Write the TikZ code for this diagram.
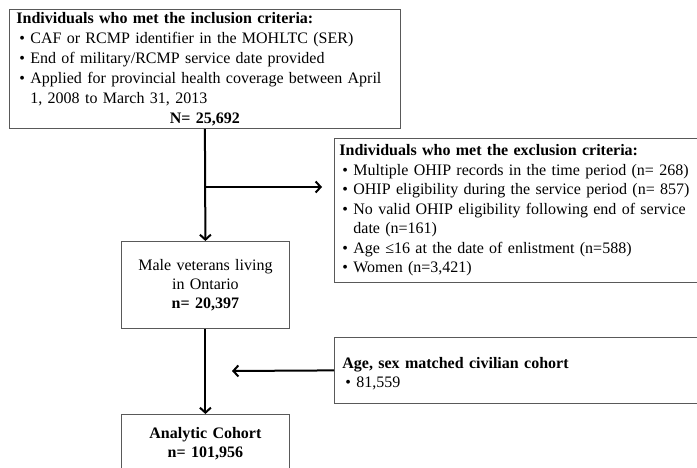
\documentclass[tikz,border=0pt]{standalone}
\usepackage{fontspec}
\setmainfont{Liberation Serif}
\usetikzlibrary{arrows.meta}
\newcommand{\bitem}[1]{\par\hangindent=14pt\hangafter=1\noindent\hspace*{3pt}\makebox[11pt][l]{\textbullet}#1}

\begin{document}
\begin{tikzpicture}[x=1pt,y=-1pt,
  box/.style={draw=black!65,line width=0.8pt,anchor=north west,inner xsep=7pt,inner ysep=0pt,font=\fontsize{16}{19}\selectfont},
  flow/.style={line width=2pt,-{Straight Barb[length=5pt,width=11pt]}}]
\useasboundingbox (0,0) rectangle (697,468);
\clip (0,0) rectangle (697,468);
\node[box,align=left,text width=377pt,minimum height=119pt,font=\fontsize{16}{20}\selectfont] (incl) at (9,9) {\textbf{Individuals who met the inclusion criteria:}
\bitem{CAF or RCMP identifier in the MOHLTC (SER)}
\bitem{End of military/RCMP service date provided}
\bitem{Applied for provincial health coverage between April\newline 1, 2008 to March 31, 2013}
\par{\centering\textbf{N= 25,692}\par}};
\node[box,align=left,text width=380pt,minimum height=144pt,inner xsep=5pt,font=\fontsize{16}{19.5}\selectfont] (excl) at (334,138) {\textbf{Individuals who met the exclusion criteria:}
\bitem{Multiple OHIP records in the time period (n= 268)}
\bitem{OHIP eligibility during the service period (n= 857)}
\bitem{No valid OHIP eligibility following end of service\newline date (n=161)}
\bitem{Age ≤16 at the date of enlistment (n=588)}
\bitem{Women (n=3,421)}};
\node[box,align=center,text width=154pt,minimum height=87pt] (male) at (121,241) {Male veterans living\\in Ontario\\\textbf{n= 20,397}};
\node[box,align=left,text width=380pt,minimum height=66pt,inner xsep=8pt] (civ) at (334,337) {\rule{0pt}{17pt}\textbf{Age, sex matched civilian cohort}
\bitem{81,559}};
\node[box,align=center,text width=154pt,minimum height=59pt] (coh) at (121,414) {\textbf{Analytic Cohort}\\\textbf{n= 101,956}};
\coordinate (split) at (204.5,187);
\coordinate (join) at (232,371);
\draw[flow] (incl.south) -- (male.north);
\draw[flow] (split) -- (excl.west |- split) [shorten >=12pt];
\draw[flow] (male.south) -- (coh.north);
\draw[flow] (civ.west) -- (join);
\end{tikzpicture}
\end{document}
